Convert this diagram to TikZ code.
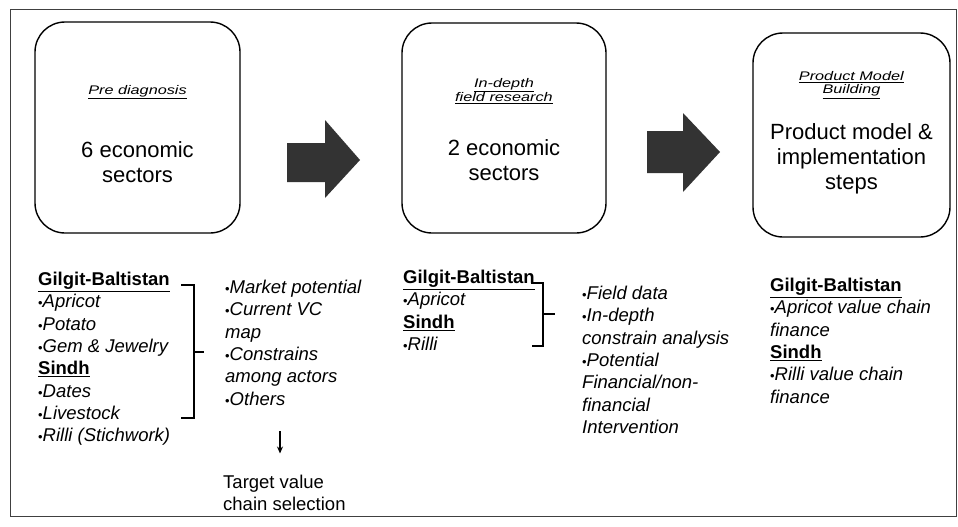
\documentclass[tikz,border=0pt]{standalone}
\usepackage{fontspec}
\setmainfont{Liberation Sans}
\usepackage{graphicx}
\usetikzlibrary{calc}
\usetikzlibrary{arrows.meta}
\newcommand{\bodyfont}{\fontsize{22}{25}\selectfont}
\newcommand{\titlefont}{\fontsize{12.5}{13.5}\selectfont}
\newcommand{\listfont}{\fontsize{18.5}{22.3}\selectfont}
\newcommand{\steptitle}[1]{\scalebox{1.3}[1]{\underline{\textit{#1}}}}
\newcommand{\region}[1]{\underline{\textbf{#1}}}
\newcommand{\itm}[1]{\scalebox{0.7}{\textbullet}\textit{#1}}
\tikzset{stagebox/.style={draw,line width=1.4pt,rounded corners=30pt,inner sep=0pt,minimum width=#1},stagebox/.default=205pt}
\tikzset{blockarrow/.style={fill=black!80}}
\tikzset{listcol/.style={anchor=north west,align=left,inner sep=0pt,font=\listfont}}
\tikzset{brace/.style={line width=1.6pt,line cap=butt}}

\begin{document}
\begin{tikzpicture}[x=1pt,y=-1pt]

	\useasboundingbox (0,0) rectangle (958,527);

	% The outer frame
	\draw [line width=1pt,black!75] (10,10) rectangle (956,516);

	% The three stages
	\node [stagebox, minimum height=211pt] (pre) at (137.5,127.5) {};
	\node [stagebox=204pt, minimum height=210pt] (depth) at (504,128) {};
	\node [stagebox=197pt, minimum height=204pt] (model) at (851.5,135) {};

	% Titles of the stages
	\node [align=center, font=\titlefont] (pretitle) at (pre.center |- 0,92) {\steptitle{Pre diagnosis}};
	\node [align=center, font=\titlefont] (depthtitle) at (depth.center |- 0,91) {\steptitle{In-depth}\\\steptitle{field research}};
	\node [align=center, font=\titlefont] (modeltitle) at (model.center |- 0,85) {\steptitle{Product Model}\\\steptitle{Building}};

	% Contents of the stages
	\node [align=center, font=\bodyfont] (prebody) at (pre.center |- 0,162) {6 economic\\sectors};
	\node [align=center, font=\bodyfont] (depthbody) at (depth.center |- 0,160) {2 economic\\sectors};
	\node [align=center, font=\bodyfont] (modelbody) at (model.center |- 0,159) {Product model \&\\implementation\\steps};

	% The block arrows between the stages
	\fill [blockarrow] (287,143) -- (325,143) -- (325,120) -- (360,160)
		-- (325,198) -- (325,182) -- (287,182) -- cycle;
	\fill [blockarrow] (647,131) -- (683,131) -- (683,113) -- (720,152)
		-- (683,192) -- (683,173) -- (647,173) -- cycle;

	% Six sectors
	\node [listcol] (sixsectors) at (38,272) {\region{Gilgit-Baltistan}\\
		\itm{Apricot}\\ \itm{Potato}\\ \itm{Gem \& Jewelry}\\
		\region{Sindh}\\ \itm{Dates}\\ \itm{Livestock}\\ \itm{Rilli (Stichwork)}};
	\draw [brace] (181,285) -- (194,285) -- (194,418) -- (181,418);
	\draw [brace] (194,352) -- (204,352);

	% Selection criteria
	\node [listcol] (criteria) at (225,280) {\itm{Market potential}\\
		\itm{Current VC}\\ \textit{map}\\ \itm{Constrains}\\
		\textit{among actors}\\ \itm{Others}};
	\node [listcol] (target) at (223,475) {Target value\\chain selection};
	\draw [-{Stealth[length=7pt,width=6pt]}, line width=1.3pt]
		($(criteria.south west)+(55,26)$) -- ++(0,22);

	% Two sectors
	\node [listcol] (twosectors) at (403,270) {\region{Gilgit-Baltistan}\\
		\itm{Apricot}\\ \region{Sindh}\\ \itm{Rilli}};
	\draw [brace] (531,283) -- (543,283) -- (543,346) -- (532,346);
	\draw [brace] (543,314) -- (555,314);

	% Field research
	\node [listcol] (analysis) at (582,286) {\itm{Field data}\\
		\itm{In-depth}\\ \textit{constrain analysis}\\ \itm{Potential}\\
		\textit{Financial/non-}\\ \textit{financial}\\ \textit{Intervention}};

	% Product models
	\node [listcol] (finance) at (770,278) {\region{Gilgit-Baltistan}\\
		\itm{Apricot value chain}\\ \textit{finance}\\ \region{Sindh}\\
		\itm{Rilli value chain}\\ \textit{finance}};

\end{tikzpicture}
\end{document}
